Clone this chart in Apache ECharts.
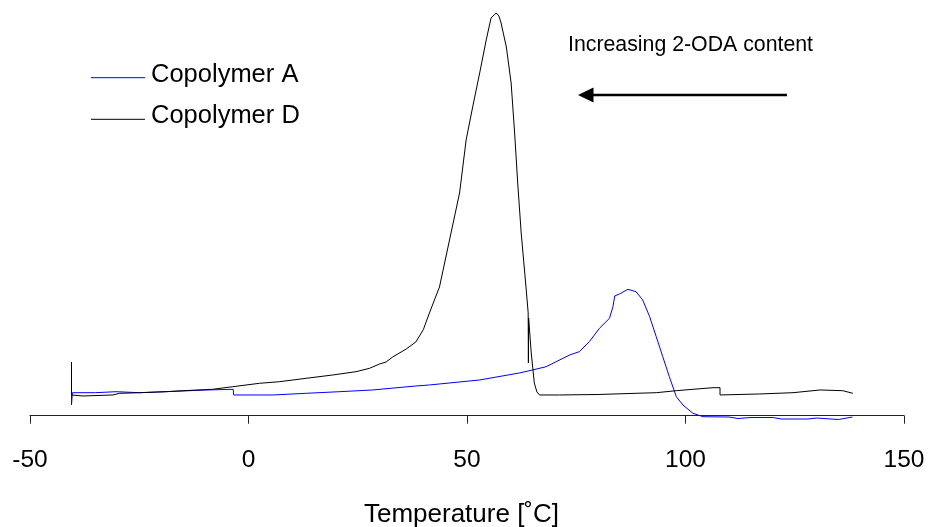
<!DOCTYPE html>
<html>
<head>
<meta charset="utf-8">
<script src="https://cdn.jsdelivr.net/npm/echarts@6/dist/echarts.min.js"></script>
<style>
  html, body { margin: 0; padding: 0; background: #fff; }
  #chart { width: 930px; height: 527px; }
</style>
</head>
<body>
<div id="chart"></div>
<script>
// DSC heating traces (heat flow, arbitrary units, endo up) versus temperature.
var tempA = [-40.5, -40.5, -40.3, -35, -30.3, -24.9, -15, -9.7, -3.5, -3.4, 5.6, 13.2, 20.8, 28.4,
  38.3, 41.4, 52.9, 62, 65, 68.1, 70.4, 73.5, 75.7, 78, 80.3, 82.6, 83.4, 83.8, 84.9, 86.8,
  88.7, 90.2, 91.8, 93.3, 94.8, 96.3, 97.9, 99.4, 101.7, 104, 110, 112, 115, 120, 122, 128,
  130, 135, 138.2];
var flowA = [5.6, 2.68, 5.75, 5.75, 6.0, 5.75, 6.18, 6.43, 6.6, 5.18, 5.18, 5.6, 6.0, 6.43,
  7.43, 7.68, 8.93, 10.68, 11.43, 12.25, 13.5, 15.18, 16.0, 18.5, 21.85, 24.35, 27.25, 29.93, 30.43, 31.6,
  31.0, 28.93, 24.75, 19.75, 14.75, 9.75, 4.75, 2.68, 0.6, -0.25, -0.33, -0.7, -0.45, -0.45, -0.83, -0.83,
  -0.58, -0.95, -0.33];

var tempD = [-40.5, -40.5, -37.9, -31, -29.5, -24.9, -18.8, -15, -8.2, -3.6, 2.5, 7.1, 13.2, 19.3,
  24.6, 27.7, 30, 31.5, 33, 36.1, 38.3, 40, 41.4, 43.7, 46, 48.3, 49.8, 51.3, 52.9, 54.4, 55.5,
  56.2, 56.7, 57.3, 57.8, 59, 60.1, 60.9, 61.6, 62.4, 63.5, 64.0, 64.05, 64.1, 64.7, 65.4, 66.0,
  66.6, 71.2, 80, 88.7, 93.3, 97.9, 101.7, 106.3, 107.9, 107.9, 116.9, 124.6, 130.8, 136, 138.3];
var flowD = [13.43, 5.18, 4.93, 5.18, 5.6, 5.75, 6.0, 6.25, 6.6, 7.25, 8.1, 8.5, 9.35, 10.18,
  11.0, 11.85, 12.93, 13.43, 14.68, 16.68, 18.43, 21.5, 25.68, 32.18, 43.93, 55.68, 68.93, 77.18, 85.68, 93.93, 99.43,
  100.18, 100.68, 99.93, 98.18, 92.18, 83.18, 70.68, 58.18, 45.68, 32.18, 25.68, 13.18, 24.43, 15.68, 8.18, 5.93,
  5.18, 5.18, 5.3, 5.6, 5.75, 6.25, 6.6, 7.0, 7.0, 5.18, 5.43, 5.75, 6.43, 6.25, 5.6];

var seriesNames = ['Copolymer A', 'Copolymer D'];
var seriesColors = ['#0000ff', '#000000'];
var xTicks = [-50, 0, 50, 100, 150];
var xTitle = 'Temperature [\u02DAC]';
var noteText = 'Increasing 2-ODA content';

function pairs(xs, ys) {
  return xs.map(function (x, i) { return [x, ys[i]]; });
}

var FONT = '"Liberation Sans", Arial, sans-serif';
var chart = echarts.init(document.getElementById('chart'));

var legendItems = [];
seriesNames.forEach(function (name, i) {
  var y = 77.7 + i * 41.6;
  legendItems.push({
    type: 'line',
    shape: { x1: 91, y1: y, x2: 145, y2: y },
    style: { stroke: seriesColors[i], lineWidth: 1 }
  });
  legendItems.push({
    type: 'text',
    x: 151, y: y - 3,
    style: { text: name, font: '25.5px ' + FONT, fill: '#000', textVerticalAlign: 'middle' }
  });
});

chart.setOption({
  animation: false,
  backgroundColor: '#fff',
  grid: { left: 30, right: 26, top: 3.7, bottom: 103.3 },
  xAxis: {
    type: 'value',
    min: xTicks[0],
    max: xTicks[xTicks.length - 1],
    interval: 50,
    axisLine: { onZero: true, lineStyle: { color: '#222', width: 1 } },
    axisTick: { show: true, inside: false, length: 8, lineStyle: { color: '#222' } },
    axisLabel: { fontFamily: FONT, fontSize: 24.5, color: '#000', margin: 24 },
    splitLine: { show: false }
  },
  yAxis: {
    type: 'value',
    min: -2,
    max: 103,
    show: false,
    splitLine: { show: false }
  },
  series: [
    {
      name: seriesNames[0], type: 'line', data: pairs(tempA, flowA),
      showSymbol: false, symbol: 'none', clip: false,
      lineStyle: { color: seriesColors[0], width: 1 }, z: 2
    },
    {
      name: seriesNames[1], type: 'line', data: pairs(tempD, flowD),
      showSymbol: false, symbol: 'none', clip: false,
      lineStyle: { color: seriesColors[1], width: 1 }, z: 3
    }
  ],
  graphic: legendItems.concat([
    {
      type: 'text', x: 461.5, y: 515,
      style: { text: xTitle, font: '26px ' + FONT, fill: '#000', textAlign: 'center', textVerticalAlign: 'middle' }
    },
    {
      type: 'text', x: 568, y: 45,
      style: { text: noteText, font: '21.3px ' + FONT, fill: '#000', textVerticalAlign: 'middle' }
    },
    {
      type: 'line',
      shape: { x1: 787, y1: 95, x2: 590, y2: 95 },
      style: { stroke: '#000', lineWidth: 2.5 }
    },
    {
      type: 'polygon',
      shape: { points: [[578, 95], [593.5, 87.5], [593.5, 102.5]] },
      style: { fill: '#000' }
    }
  ])
});
</script>
</body>
</html>
